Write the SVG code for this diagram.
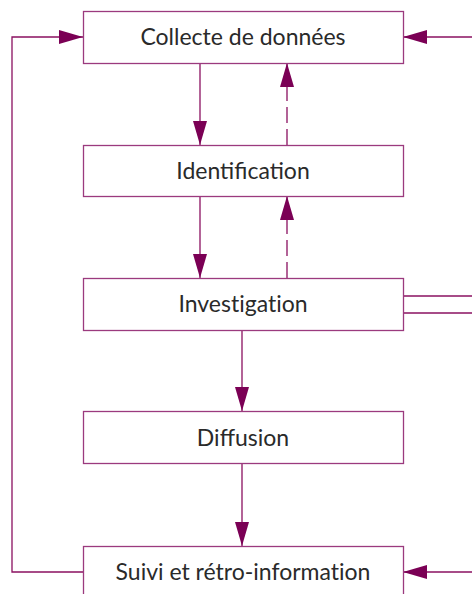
<svg xmlns="http://www.w3.org/2000/svg" width="472" height="594" viewBox="0 0 472 594">
<style>
.box{fill:#fff;stroke:#9b3a7e;stroke-width:1.3}
.lbl{font-family:Lato,"Open Sans",sans-serif;font-size:23px;fill:#2a2a2a;text-anchor:middle}
.nolig{font-variant-ligatures:none}
.ln{fill:none;stroke:#8a1060;stroke-width:1.3}
.dash{stroke-dasharray:16 6}
</style>
<defs>
<marker id="ah" markerWidth="24" markerHeight="14" refX="24" refY="7" orient="auto" markerUnits="userSpaceOnUse">
<path d="M0,0 L24,7 L0,14 Z" fill="#7b0055"/>
</marker>
</defs>
<rect width="472" height="594" fill="#fff"/>
<g id="connectors">
<path class="ln" d="M200,63 V145" marker-end="url(#ah)"/>
<path class="ln dash" d="M287,145 V63" marker-end="url(#ah)"/>
<path class="ln" d="M200,196 V278" marker-end="url(#ah)"/>
<path class="ln dash" d="M287,278 V196" marker-end="url(#ah)"/>
<path class="ln" d="M242,330 V411" marker-end="url(#ah)"/>
<path class="ln" d="M242,464 V546" marker-end="url(#ah)"/>
<path class="ln" d="M83,572 H12 V37 H83" marker-end="url(#ah)"/>
<path class="ln" d="M472,37 H403" marker-end="url(#ah)"/>
<path class="ln" d="M472,572 H403" marker-end="url(#ah)"/>
<path class="ln" d="M403,296 H472"/>
<path class="ln" d="M403,313 H472"/>
</g>
<g id="collecte">
<rect class="box" x="83.5" y="11.5" width="320" height="52"/>
<text class="lbl" x="243" y="45">Collecte de données</text>
</g>
<g id="identification">
<rect class="box" x="83.5" y="145.5" width="320" height="51"/>
<text class="lbl" x="243" y="179">Identification</text>
</g>
<g id="investigation">
<rect class="box" x="83.5" y="278.5" width="320" height="52"/>
<text class="lbl nolig" x="243" y="312">Investigation</text>
</g>
<g id="diffusion">
<rect class="box" x="83.5" y="411.5" width="320" height="52"/>
<text class="lbl" x="243" y="446">Diffusion</text>
</g>
<g id="suivi">
<rect class="box" x="83.5" y="546.5" width="320" height="52"/>
<text class="lbl nolig" x="243" y="580">Suivi et rétro-information</text>
</g>
</svg>
